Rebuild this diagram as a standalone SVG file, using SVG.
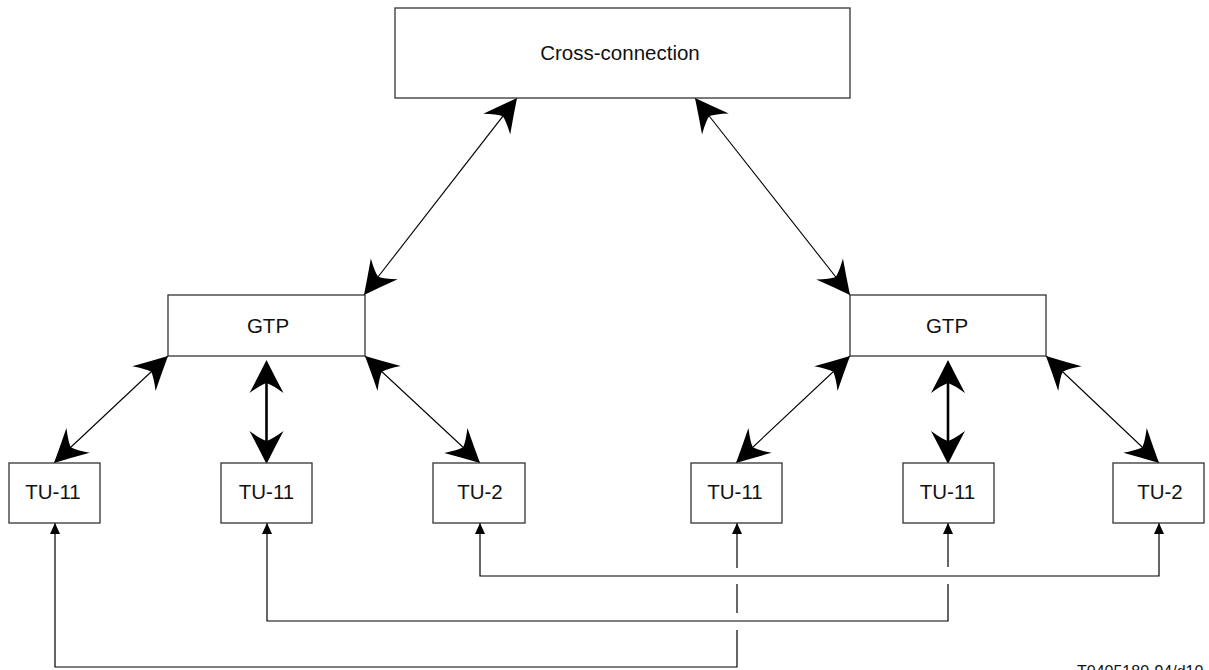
<svg xmlns="http://www.w3.org/2000/svg" width="1209" height="670" viewBox="0 0 1209 670">
<style>
.box{fill:#fff;stroke:#333;stroke-width:1.3}
.lbl{font-family:"Liberation Sans",Arial,sans-serif;font-size:20.5px;fill:#111;text-anchor:middle}
.thin{fill:none;stroke:#000;stroke-width:1.1}
.thick{fill:none;stroke:#000;stroke-width:2.6}
.bus{fill:none;stroke:#000;stroke-width:1.2}
</style>
<defs>
<marker id="big" markerUnits="userSpaceOnUse" markerWidth="80" markerHeight="80" viewBox="-40 -40 80 80" refX="0" refY="0" orient="auto-start-reverse" overflow="visible">
<path d="M0,0 Q-18,-9 -33,-17 Q-25,-6 -23,0 Q-25,6 -33,17 Q-18,9 0,0 Z" fill="#000"/>
</marker>
<marker id="bigT" markerUnits="userSpaceOnUse" markerWidth="80" markerHeight="80" viewBox="-40 -40 80 80" refX="0" refY="0" orient="auto-start-reverse" overflow="visible">
<path d="M5,0 Q-13,-9 -28,-17 Q-20,-6 -18,0 Q-20,6 -28,17 Q-13,9 5,0 Z" fill="#000"/>
</marker>
<marker id="small" markerUnits="userSpaceOnUse" markerWidth="24" markerHeight="24" viewBox="-12 -12 24 24" refX="0" refY="0" orient="auto-start-reverse" overflow="visible">
<path d="M0,0 L-11,-5 L-11,5 Z" fill="#000"/>
</marker>
</defs>

<g id="connectors">
<line class="thin" x1="517" y1="98" x2="364" y2="295" marker-start="url(#big)" marker-end="url(#big)"/>
<line class="thin" x1="695" y1="98" x2="850" y2="295" marker-start="url(#big)" marker-end="url(#big)"/>
<line class="thin" x1="168" y1="356" x2="54" y2="463" marker-start="url(#big)" marker-end="url(#big)"/>
<line class="thick" x1="266.5" y1="365" x2="266.5" y2="459" marker-start="url(#bigT)" marker-end="url(#bigT)"/>
<line class="thin" x1="365" y1="356" x2="480" y2="463" marker-start="url(#big)" marker-end="url(#big)"/>
<line class="thin" x1="850" y1="356" x2="736" y2="463" marker-start="url(#big)" marker-end="url(#big)"/>
<line class="thick" x1="948" y1="365" x2="948" y2="459" marker-start="url(#bigT)" marker-end="url(#bigT)"/>
<line class="thin" x1="1046" y1="356" x2="1159" y2="463" marker-start="url(#big)" marker-end="url(#big)"/>

<path class="bus" d="M55,523 V667 H737 V630" marker-start="url(#small)"/>
<path class="bus" d="M737,613 V584"/>
<path class="bus" d="M737,568 V523" marker-end="url(#small)"/>

<path class="bus" d="M267,523 V621 H948 V584" marker-start="url(#small)"/>
<path class="bus" d="M948,567 V523" marker-end="url(#small)"/>

<path class="bus" d="M480,523 V576 H1159 V523" marker-start="url(#small)" marker-end="url(#small)"/>
</g>

<g id="cross-connection">
<rect class="box" x="395" y="8" width="455" height="90"/>
<text class="lbl" x="620" y="60">Cross-connection</text>
</g>

<g id="gtp-left">
<rect class="box" x="168" y="295" width="197" height="61"/>
<text class="lbl" x="268" y="333">GTP</text>
</g>
<g id="gtp-right">
<rect class="box" x="850" y="295" width="196" height="61"/>
<text class="lbl" x="947" y="333">GTP</text>
</g>

<g id="tu11-l1">
<rect class="box" x="9" y="463" width="91" height="60"/>
<text class="lbl" x="53" y="499">TU-11</text>
</g>
<g id="tu11-l2">
<rect class="box" x="221" y="463" width="91" height="60"/>
<text class="lbl" x="266.5" y="499">TU-11</text>
</g>
<g id="tu2-l3">
<rect class="box" x="433" y="463" width="92" height="60"/>
<text class="lbl" x="480" y="499">TU-2</text>
</g>
<g id="tu11-r1">
<rect class="box" x="691" y="463" width="91" height="60"/>
<text class="lbl" x="735" y="499">TU-11</text>
</g>
<g id="tu11-r2">
<rect class="box" x="903" y="463" width="91" height="60"/>
<text class="lbl" x="947.5" y="499">TU-11</text>
</g>
<g id="tu2-r3">
<rect class="box" x="1113" y="463" width="91" height="60"/>
<text class="lbl" x="1160" y="499">TU-2</text>
</g>

<text x="1077" y="677" font-family="'Liberation Sans',Arial,sans-serif" font-size="16" fill="#111">T0405180-94/d10</text>
</svg>
